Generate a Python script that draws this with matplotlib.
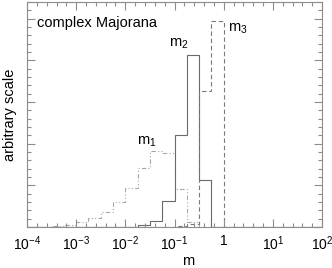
import numpy as np
import matplotlib
matplotlib.use('Agg')
import matplotlib.pyplot as plt
from matplotlib.ticker import FixedLocator, MultipleLocator, FixedFormatter

plt.rcParams['font.family'] = ['Liberation Sans', 'DejaVu Sans']
plt.rcParams['mathtext.fontset'] = 'custom'
plt.rcParams['mathtext.rm'] = 'Liberation Sans'
plt.rcParams['mathtext.it'] = 'Liberation Sans'
plt.rcParams['mathtext.default'] = 'regular'

# bin edges: quarter decades from 1e-4 to 1e2
log_edges = np.arange(-4.0, 2.001, 0.25)
edges = 10 ** log_edges

# heights per bin (arbitrary scale)
m1_vals = [0.01, 0.01, 0.02, 0.04, 0.13, 0.21, 0.37, 0.61, 0.94, 1.41,
           1.83, 1.77, 0.91, 0.13, 0.0, 0.0, 0.0, 0.0, 0.0, 0.0,
           0.0, 0.0, 0.0, 0.0]
m2_vals = [0.0, 0.0, 0.0, 0.0, 0.0, 0.0, 0.0, 0.0, 0.01, 0.04,
           0.14, 0.62, 2.22, 4.14, 1.14, 0.0, 0.0, 0.0, 0.0, 0.0,
           0.0, 0.0, 0.0, 0.0]
m3_vals = [0.0, 0.0, 0.0, 0.0, 0.0, 0.0, 0.0, 0.0, 0.0, 0.0,
           0.0, 0.0, 0.02, 0.08, 3.27, 4.94, 0.0, 0.0, 0.0, 0.0,
           0.0, 0.0, 0.0, 0.0]

decades = [-4, -3, -2, -1, 0, 1, 2]
tick_labels = [r'$10^{-4}$', r'$10^{-3}$', r'$10^{-2}$', r'$10^{-1}$', '1',
               r'$10^{1}$', r'$10^{2}$']

W, H = 332, 268
fig = plt.figure(figsize=(W / 100, H / 100), dpi=100)
ax = fig.add_axes([27 / W, 41 / H, 295 / W, 225 / H])

gray = '#8c8c8c'
ax.stairs(m1_vals, edges, color='#a8a8a8', lw=0.8, linestyle=(0, (4, 2, 1, 2, 1, 2)))
ax.stairs(m2_vals, edges, color='#6a6a6a', lw=0.8)
ax.stairs(m3_vals, edges, color='#7a7a7a', lw=0.8, linestyle=(0, (4, 2.5)))

ax.set_xscale('log')
ax.set_xlim(1e-4, 1e2)
ax.set_ylim(0, 5.4)

ax.xaxis.set_major_locator(FixedLocator([10.0 ** d for d in decades]))
ax.xaxis.set_major_formatter(FixedFormatter(tick_labels))
minor = [10 ** (d + 0.2 * j) for d in range(-4, 2) for j in range(1, 5)]
ax.xaxis.set_minor_locator(FixedLocator(minor))
ax.xaxis.set_minor_formatter(FixedFormatter([]))
ax.yaxis.set_major_locator(MultipleLocator(1))
ax.yaxis.set_minor_locator(MultipleLocator(0.2))
ax.set_yticklabels([])

ax.tick_params(which='both', direction='in', top=True, right=True, color=gray,
               width=0.8)
ax.tick_params(which='major', length=6)
ax.tick_params(which='minor', length=3)
ax.tick_params(axis='x', labelsize=10, pad=5)
for s in ax.spines.values():
    s.set_color(gray)
    s.set_linewidth(0.8)

ax.set_xlabel('m', fontsize=10.5)
ax.xaxis.set_label_coords(0.545, -0.12)
ax.set_ylabel('arbitrary scale', fontsize=10.5)
ax.yaxis.set_label_coords(-0.035, 0.5)

ax.text(0.035, 0.905, 'complex Majorana', transform=ax.transAxes, fontsize=10.5,
        va='center', ha='left')
ax.text(0.027, 1.97, r'$m_1$', fontsize=10.5, ha='center', va='baseline')
ax.text(0.12, 4.32, r'$m_2$', fontsize=10.5, ha='center', va='baseline')
ax.text(1.95, 4.68, r'$m_3$', fontsize=10.5, ha='center', va='baseline')

fig.savefig('out.png', dpi=100)
